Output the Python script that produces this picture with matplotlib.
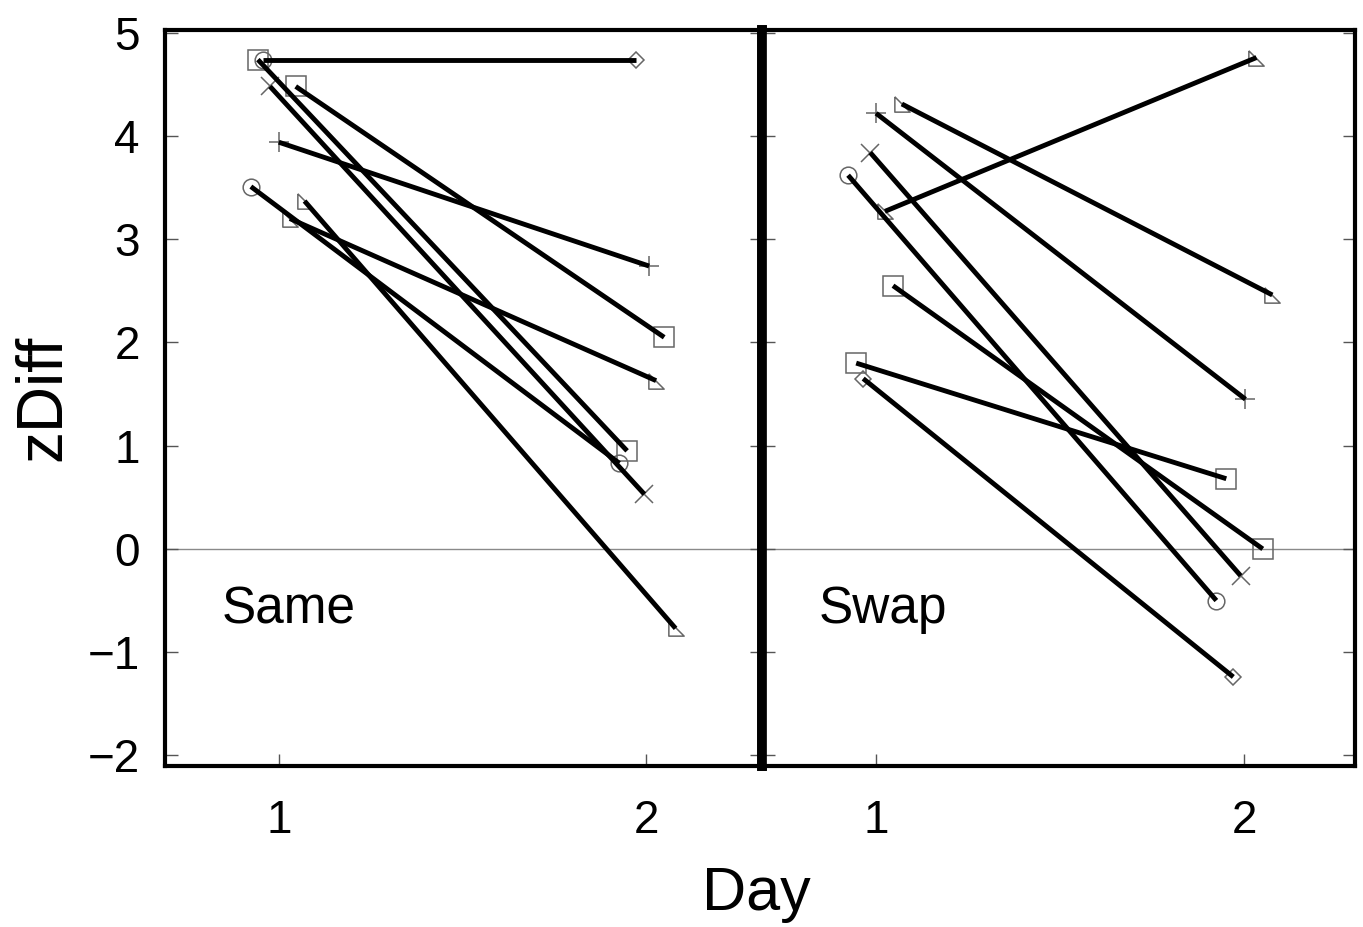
import matplotlib
matplotlib.use('Agg')
import matplotlib.pyplot as plt

# Same condition: day 1 / day 2 (x positions are jittered around 1 and 2)
same_x1 = [0.957, 0.943, 0.976, 1.046, 1.000, 0.924, 1.030, 1.070]
same_y1 = [4.74, 4.74, 4.48, 4.48, 3.94, 3.51, 3.20, 3.37]
same_x2 = [1.973, 1.948, 1.995, 2.049, 2.008, 1.927, 2.027, 2.080]
same_y2 = [4.74, 0.95, 0.53, 2.05, 2.74, 0.83, 1.63, -0.77]
same_m1 = ['o', 's', 'x', 's', '+', 'o', 'tri', 'tri']
same_m2 = ['D', 's', 'x', 's', '+', 'o', 'tri', 'tri']

# Swap condition
swap_x1 = [1.070, 1.000, 0.984, 0.924, 1.024, 1.046, 0.946, 0.965]
swap_y1 = [4.31, 4.22, 3.84, 3.62, 3.27, 2.55, 1.80, 1.65]
swap_x2 = [2.076, 2.003, 1.990, 1.924, 2.033, 2.050, 1.951, 1.970]
swap_y2 = [2.46, 1.45, -0.26, -0.50, 4.76, 0.00, 0.68, -1.24]
swap_m1 = ['tri', '+', 'x', 'o', 'tri', 's', 's', 'D']
swap_m2 = ['tri', '+', 'x', 'o', 'tri', 's', 's', 'D']

y_ticks = [-2, -1, 0, 1, 2, 3, 4, 5]
x_ticks = [1, 2]

TRI = [(-1, 1), (-1, -1), (1, -1), (-1, 1)]
plt.rcParams['font.family'] = ['Liberation Sans', 'DejaVu Sans']


def marker_kw(m):
    size = {'o': 12, 's': 14, 'x': 13, '+': 14, 'D': 8, 'tri': 11}[m]
    return dict(marker=TRI if m == 'tri' else m, markersize=size,
                markerfacecolor='none', markeredgecolor='#666666',
                markeredgewidth=1.1, linestyle='none', zorder=2)


def draw_panel(ax, x1, y1, x2, y2, m1, m2, label, xmax):
    ax.axhline(0, color='#8a8a8a', lw=1.0, zorder=1)
    for i in range(len(x1)):
        ax.plot(x1[i], y1[i], **marker_kw(m1[i]))
        ax.plot(x2[i], y2[i], **marker_kw(m2[i]))
        ax.plot([x1[i], x2[i]], [y1[i], y2[i]], color='black', lw=3.5,
                solid_capstyle='butt', zorder=3)
    ax.set_xlim(0.69, xmax)
    ax.set_ylim(-2.10, 5.03)
    ax.set_xticks(x_ticks)
    ax.set_yticks(y_ticks)
    ax.tick_params(direction='in', length=9, width=1, color='#555555',
                   labelsize=33, pad=24, right=True)
    ax.text(0.845, -0.59, label, fontsize=37, va='center', ha='left')
    for s in ax.spines.values():
        s.set_linewidth(3)


fig = plt.figure(figsize=(13.63, 9.27), dpi=100)
ax1 = fig.add_axes([0.121, 0.174, 0.438, 0.794])
ax2 = fig.add_axes([0.559, 0.174, 0.435, 0.794])

draw_panel(ax1, same_x1, same_y1, same_x2, same_y2, same_m1, same_m2, 'Same', 2.315)
draw_panel(ax2, swap_x1, swap_y1, swap_x2, swap_y2, swap_m1, swap_m2, 'Swap', 2.30)

ax1.set_yticklabels(['\u22122', '\u22121', '0', '1', '2', '3', '4', '5'])
ax1.tick_params(axis='y', pad=18)
ax2.tick_params(axis='y', labelleft=False)
ax1.spines['right'].set_linewidth(7)
ax2.spines['left'].set_linewidth(7)

ax1.set_ylabel('zDiff', fontsize=46, labelpad=10)
fig.text(0.555, 0.035, 'Day', fontsize=44, ha='center', va='center')

fig.savefig('out.png', dpi=100)
